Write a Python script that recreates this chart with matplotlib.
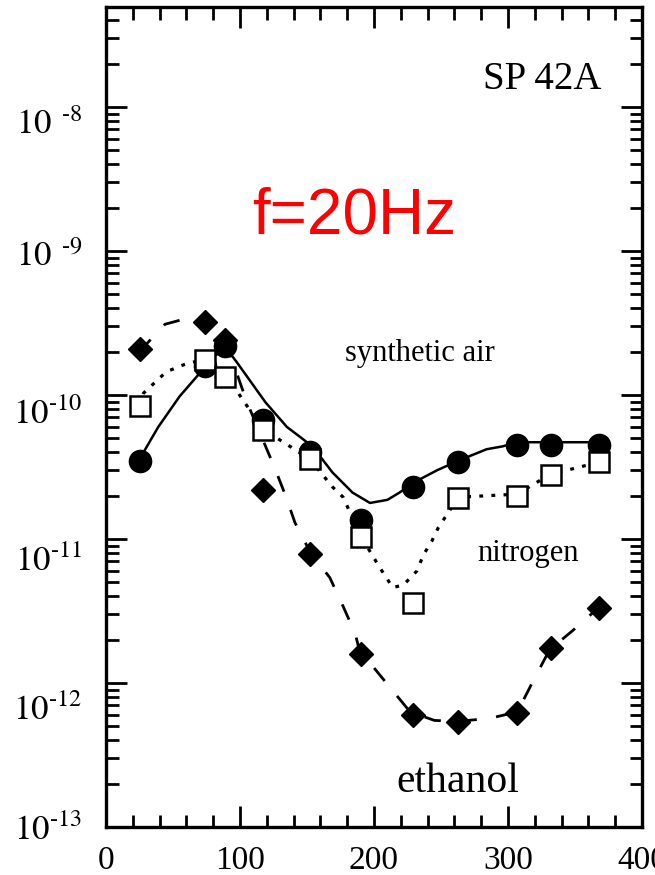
import numpy as np
import matplotlib.pyplot as plt
from matplotlib.ticker import MultipleLocator, NullFormatter
from matplotlib.transforms import ScaledTranslation

plt.rcParams['mathtext.fontset'] = 'stix'
plt.rcParams['font.family'] = 'Liberation Serif'

# measured points (temperature, signal)
temp = [25, 74, 89, 117, 152, 190, 229, 263, 307, 332, 368]
air = [3.5e-11, 1.6e-10, 2.2e-10, 6.7e-11, 4.0e-11, 1.35e-11, 2.3e-11, 3.4e-11, 4.5e-11, 4.5e-11, 4.5e-11]
nitrogen = [8.4e-11, 1.75e-10, 1.33e-10, 5.7e-11, 3.6e-11, 1.03e-11, 3.6e-12, 1.93e-11, 2.0e-11, 2.8e-11, 3.4e-11]
ethanol = [2.1e-10, 3.2e-10, 2.4e-10, 2.2e-11, 7.9e-12, 1.6e-12, 6.0e-13, 5.4e-13, 6.2e-13, 1.74e-12, 3.3e-12]

# hand drawn guide curves
air_curve_x = [25, 28, 39, 55, 70, 80, 90, 98, 119, 135, 145, 154, 169, 184, 197, 210, 219, 229, 247, 263, 284, 296, 307, 369]
air_curve_y = [3.6e-11, 4.0e-11, 6.0e-11, 9.8e-11, 1.42e-10, 1.85e-10, 2.1e-10, 1.67e-10, 8.9e-11, 6.0e-11, 5.1e-11,
               4.4e-11, 2.9e-11, 2.1e-11, 1.78e-11, 1.87e-11, 2.1e-11, 2.45e-11, 3.0e-11, 3.5e-11, 4.2e-11, 4.4e-11,
               4.7e-11, 4.7e-11]
n2_curve_x = [24, 28, 45, 60, 72, 89, 117, 152, 169, 177, 190, 204, 214, 222, 232, 237, 243, 248, 263, 307, 331, 367]
n2_curve_y = [8.5e-11, 1.03e-10, 1.45e-10, 1.65e-10, 1.75e-10, 1.4e-10, 5.8e-11, 3.6e-11, 2.3e-11, 1.95e-11, 1.05e-11,
              6.4e-12, 4.6e-12, 4.8e-12, 6.0e-12, 7.8e-12, 9.6e-12, 1.2e-11, 1.95e-11, 2.05e-11, 2.8e-11, 3.4e-11]
eth_curve_x = [23, 31, 44, 60, 74, 89, 105, 126, 134, 141, 153, 167, 177, 186, 189, 212, 227, 245, 262, 287, 307, 318,
               331, 348, 367]
eth_curve_y = [2.1e-10, 2.3e-10, 3.1e-10, 3.4e-10, 3.3e-10, 2.4e-10, 9e-11, 3.1e-11, 2.0e-11, 1.3e-11, 7.9e-12, 5.4e-12,
               3.4e-12, 2.2e-12, 1.7e-12, 9.3e-13, 6.3e-13, 5.5e-13, 5.4e-13, 5.7e-13, 6.3e-13, 1.0e-12, 1.7e-12,
               2.3e-12, 3.3e-12]

ytick_vals = [1e-13, 1e-12, 1e-11, 1e-10, 1e-9, 1e-8]
ytick_labels = ['$10^{\u201013}$', '$10^{\u201012}$', '$10^{\u201011}$', '$10^{\u201010}$',
                '$10\\,^{\\ \u20109}$', '$10\\,^{\\ \u20108}$']
ylabel_shift = [0, 24, 19, 16, 2, 14]  # px, labels sit a bit below their ticks
xtick_vals = [0, 100, 200, 300, 400]

fig = plt.figure(figsize=(6.55, 8.75), dpi=100)
ax = fig.add_axes([106 / 655, 48 / 875, 536 / 655, 820 / 875])
ax.set_yscale('log')

ax.plot(air_curve_x, air_curve_y, color='black', lw=1.8, zorder=2)
ax.plot(n2_curve_x, n2_curve_y, color='black', lw=2.3, linestyle=(0, (1.2, 2.6)), zorder=2)
ax.plot(eth_curve_x, eth_curve_y, color='black', lw=2.0, linestyle=(0, (6, 7)), zorder=2)

ax.plot(temp, air, 'o', color='black', ms=16, zorder=3)
ax.plot(temp, nitrogen, 's', mfc='white', mec='black', mew=1.8, ms=14, zorder=4)
ax.plot(temp, ethanol, 'D', color='black', ms=12, zorder=5)

ax.set_xlim(0, 400)
ax.set_ylim(1e-13, 4.95e-8)
ax.set_xticks(xtick_vals)
ax.xaxis.set_minor_locator(MultipleLocator(20))
ax.set_yticks(ytick_vals)
ax.set_yticklabels(ytick_labels)
ax.yaxis.set_minor_formatter(NullFormatter())

ax.tick_params(which='both', direction='in', top=True, right=True, width=2, labelsize=24)
ax.tick_params(axis='y', labelsize=25)
ax.tick_params(which='major', length=15)
ax.tick_params(which='minor', length=9)
ax.tick_params(axis='y', pad=17)
ax.tick_params(axis='x', pad=13)
for s in ax.spines.values():
    s.set_linewidth(2.4)

for lab, off in zip(ax.get_yticklabels(), ylabel_shift):
    lab.set_transform(lab.get_transform() + ScaledTranslation(0, -off / 100, fig.dpi_scale_trans))

ax.text(0.813, 0.911, 'SP 42A', transform=ax.transAxes, fontsize=28, ha='center', va='center')
ax.text(0.463, 0.745, 'f=20Hz', transform=ax.transAxes, fontsize=46, color='red',
        family='Liberation Sans', ha='center', va='center')
ax.text(0.586, 0.578, 'synthetic air', transform=ax.transAxes, fontsize=22, ha='center', va='center')
ax.text(0.787, 0.334, 'nitrogen', transform=ax.transAxes, fontsize=22, ha='center', va='center')
ax.text(0.657, 0.055, 'ethanol', transform=ax.transAxes, fontsize=30, ha='center', va='center')

fig.savefig('out.png', dpi=100)
